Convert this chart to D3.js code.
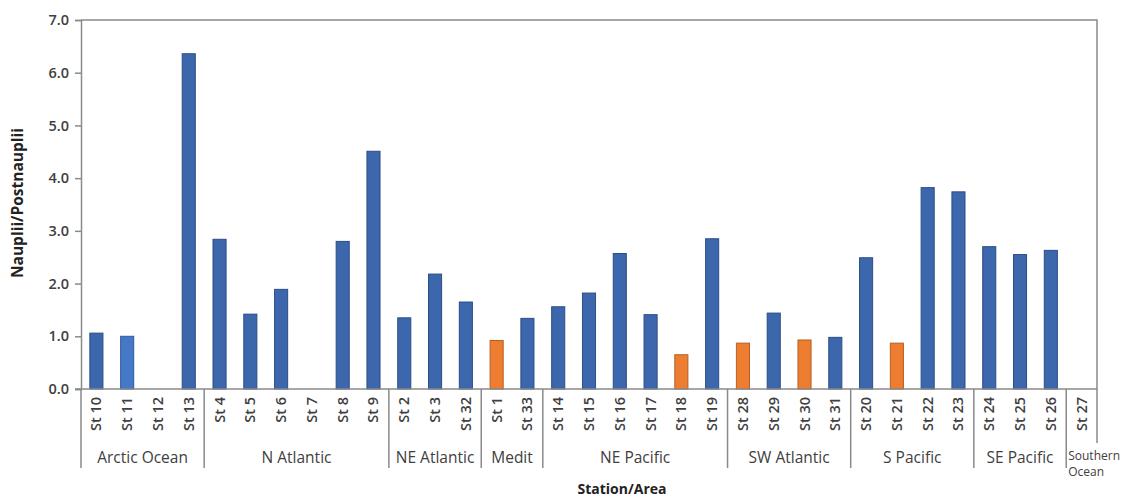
<!DOCTYPE html>
<html>
<head>
<meta charset="utf-8">
<script src="https://cdn.jsdelivr.net/npm/d3@7"></script>
<style>
  body { margin: 0; background: #fff; }
  svg { display: block; }
  text { font-family: "Open Sans", "DejaVu Sans", sans-serif; }
</style>
</head>
<body>
<svg id="chart" width="1133" height="499"></svg>
<script>
// ---- data ----
const stations = ["St 10","St 11","St 12","St 13","St 4","St 5","St 6","St 7","St 8","St 9",
  "St 2","St 3","St 32","St 1","St 33","St 14","St 15","St 16","St 17","St 18","St 19",
  "St 28","St 29","St 30","St 31","St 20","St 21","St 22","St 23","St 24","St 25","St 26","St 27"];
const values = [1.06,1.0,0,6.36,2.84,1.42,1.89,0,2.80,4.51,
  1.35,2.18,1.65,0.92,1.34,1.56,1.82,2.57,1.41,0.65,2.85,
  0.87,1.44,0.93,0.98,2.49,0.87,3.82,3.74,2.70,2.55,2.63,0];
const barType = ["b","b2","b","b","b","b","b","b","b","b",
  "b","b","b","o","b","b","b","b","b","o","b",
  "o","b","o","b","b","o","b","b","b","b","b","b"];
const areas = ["Arctic Ocean","N Atlantic","NE Atlantic","Medit","NE Pacific","SW Atlantic","S Pacific","SE Pacific","Southern Ocean"];
const areaSizes = [4,6,3,2,6,4,4,3,1];
const yTicks = [0,1,2,3,4,5,6,7];

(function () {
// ---- layout ----
const svg = d3.select("#chart");
const pLeft = 81, pRight = 1097, pTop = 20, pBottom = 389;
const fill = { b: "#3d67ad", b2: "#4678c8", o: "#ed7d31" };
const stroke = { b: "#2b4d86", b2: "#33599a", o: "#b55f24" };
const lineCol = "#8a8a8a";
const textCol = "#404040";

const x = d3.scaleBand().domain(stations).range([pLeft, pRight]).paddingInner(0.575).paddingOuter(0.2875);
const y = d3.scaleLinear().domain([0, 7]).range([pBottom, pTop]);

// plot border (top + right)
svg.append("path")
  .attr("d", `M${pLeft},${pTop}H${pRight}V${pBottom}`)
  .attr("fill", "none").attr("stroke", lineCol).attr("stroke-width", 1.5);

// y axis
const yAxis = svg.append("g").attr("transform", `translate(${pLeft},0)`)
  .call(d3.axisLeft(y).tickValues(yTicks).tickFormat(d3.format(".1f")).tickSize(6).tickPadding(6));
yAxis.select(".domain").attr("stroke", lineCol).attr("stroke-width", 1.5);
yAxis.selectAll(".tick line").attr("stroke", lineCol).attr("stroke-width", 1.5);
yAxis.selectAll(".tick text").attr("fill", textCol).attr("font-size", 14.5)
  .attr("font-weight", 600).attr("font-family", "'Open Sans', sans-serif");

// bars
svg.append("g").selectAll("rect")
  .data(stations.map((s, i) => ({ s, v: values[i], t: barType[i] })).filter(d => d.v > 0))
  .join("rect")
  .attr("x", d => x(d.s))
  .attr("width", x.bandwidth())
  .attr("y", d => y(d.v))
  .attr("height", d => y(0) - y(d.v))
  .attr("fill", d => fill[d.t])
  .attr("stroke", d => stroke[d.t])
  .attr("stroke-width", 1);

// x baseline
svg.append("line").attr("x1", pLeft - 6).attr("x2", pRight).attr("y1", pBottom).attr("y2", pBottom)
  .attr("stroke", lineCol).attr("stroke-width", 1.5);

// station labels
svg.append("g").selectAll("text").data(stations).join("text")
  .attr("transform", d => `translate(${x(d) + x.bandwidth() / 2 + 5},${pBottom + 8}) rotate(-90)`)
  .attr("text-anchor", "end")
  .attr("fill", textCol).attr("font-size", 14.5).attr("font-weight", 600)
  .text(d => d);

// group separators and labels
const step = x.step();
let idx = 0;
const bounds = [0];
areaSizes.forEach(n => { idx += n; bounds.push(idx); });
const posAt = k => pLeft + k * step;
bounds.forEach((k, i) => {
  const last = i === bounds.length - 1;
  svg.append("line").attr("x1", posAt(k)).attr("x2", posAt(k))
    .attr("y1", pBottom).attr("y2", last ? 443 : 468)
    .attr("stroke", lineCol).attr("stroke-width", 1.5);
});
areas.forEach((a, i) => {
  const x0 = posAt(bounds[i]), x1 = posAt(bounds[i + 1]);
  if (a === "Southern Ocean") {
    const t = svg.append("text").attr("fill", textCol).attr("font-size", 12);
    t.append("tspan").attr("x", x0 + 2).attr("y", 460).text("Southern");
    t.append("tspan").attr("x", x0 + 2).attr("y", 476).text("Ocean");
  } else {
    svg.append("text").attr("x", (x0 + x1) / 2).attr("y", 463)
      .attr("text-anchor", "middle").attr("fill", textCol).attr("font-size", 15.5)
      .text(a);
  }
});

// axis titles
svg.append("text").attr("transform", "translate(23,203) rotate(-90)")
  .attr("text-anchor", "middle").attr("font-size", 15.5).attr("font-weight", 700).attr("fill", "#222")
  .text("Nauplii/Postnauplii");
svg.append("text").attr("x", 622).attr("y", 494)
  .attr("text-anchor", "middle").attr("font-size", 14).attr("font-weight", 700).attr("fill", "#222")
  .text("Station/Area");
})();
</script>
</body>
</html>
